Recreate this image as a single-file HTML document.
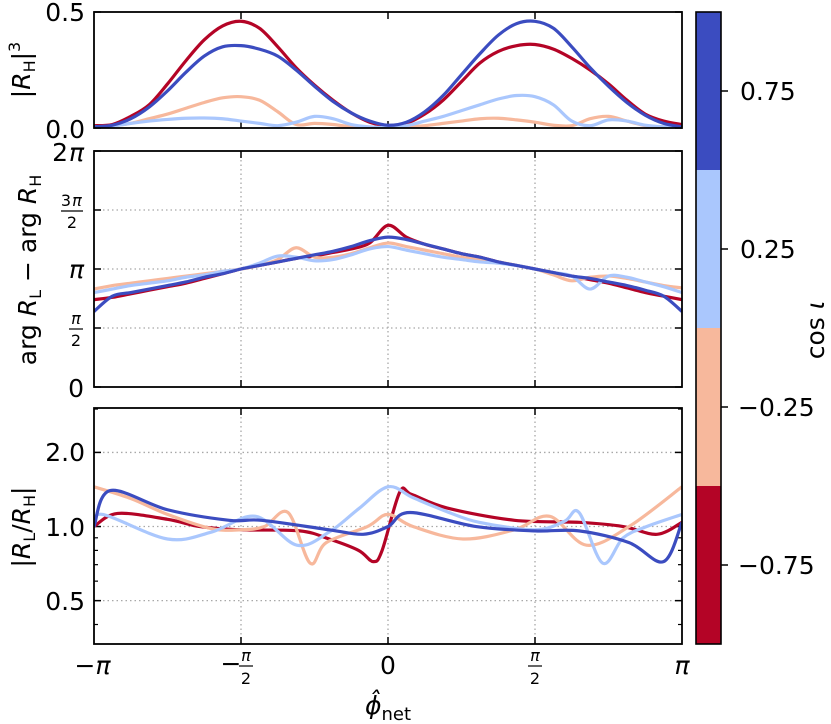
<!DOCTYPE html>
<html><head><meta charset="utf-8"><style>
body{margin:0;background:#fff}
svg{display:block;font-family:"DejaVu Sans","Liberation Sans",sans-serif}
</style></head><body>
<svg id="chart" width="831" height="724" viewBox="0 0 831 724" xmlns="http://www.w3.org/2000/svg"></svg>
<script>
// ---- data ----
const seriesCos = [-0.75, -0.25, 0.25, 0.75];
const seriesColors = ["#b40426", "#f7b89c", "#aac7fd", "#3b4cc0"];
const gridX = [-1,-.9375,-.875,-.8125,-.75,-.6875,-.625,-.5625,-.5,-.4375,-.375,-.3125,-.25,-.1875,-.125,-.0625,0,.0625,.125,.1875,.25,.3125,.375,.4375,.5,.5625,.625,.6875,.75,.8125,.875,.9375,1];
// top panel |R_H|^3
const topRed = [.01,.015,.05,.1,.19,.29,.38,.44,.46,.43,.35,.26,.185,.12,.065,.025,.01,.02,.06,.12,.2,.28,.33,.355,.36,.34,.3,.25,.19,.12,.06,.03,.015];
const topPeach = [.005,.01,.02,.04,.06,.085,.11,.13,.135,.12,.07,.015,.02,.015,.005,.002,.002,.005,.01,.02,.03,.04,.042,.035,.025,.012,.01,.04,.05,.03,.01,.005,.005];
const topLight = [.002,.008,.02,.03,.037,.042,.043,.04,.03,.02,.01,.025,.05,.04,.015,.005,.002,.01,.03,.05,.075,.1,.125,.14,.135,.1,.03,.01,.035,.03,.012,.005,.002];
const topBlue = [.005,.012,.04,.09,.16,.24,.31,.35,.355,.34,.31,.25,.18,.115,.065,.03,.012,.025,.07,.14,.23,.32,.4,.45,.46,.43,.35,.26,.18,.11,.055,.02,.005];
// middle panel arg difference (units of pi)
const midRed = [.74,.76,.79,.82,.85,.88,.92,.96,1.0,1.03,1.06,1.09,1.11,1.14,1.17,1.22,1.37,1.27,1.21,1.17,1.13,1.1,1.06,1.03,1.0,.97,.94,.91,.88,.84,.8,.77,.74];
const midPeach = [.83,.86,.88,.9,.92,.94,.96,.98,1.0,1.03,1.08,1.18,1.1,1.1,1.13,1.18,1.22,1.19,1.16,1.13,1.1,1.08,1.06,1.03,1.0,.95,.9,.93,.94,.92,.89,.86,.84];
const midLight = [.8,.83,.86,.88,.9,.93,.95,.98,1.0,1.05,1.11,1.1,1.07,1.08,1.12,1.17,1.19,1.16,1.13,1.1,1.08,1.06,1.05,1.03,1.0,.97,.94,.83,.94,.93,.89,.85,.8];
const midBlue = [.64,.77,.8,.83,.86,.89,.93,.96,1.0,1.03,1.06,1.09,1.12,1.15,1.19,1.24,1.27,1.25,1.21,1.17,1.13,1.1,1.06,1.03,1.0,.97,.94,.92,.89,.86,.82,.77,.64];
// bottom panel |R_L/R_H|
const botRedX = [-1,-.92,-.75,-.64,-.5,-.3,-.2,-.1,-.05,-.02,.04,.08,.2,.43,.65,.8,.915,1];
const botRedY = [1.0,1.13,1.07,1.0,.97,.96,.89,.8,.72,.8,1.38,1.35,1.19,1.06,1.04,1.0,.93,1.04];
const botPeachX = [-1,-.875,-.75,-.6,-.5,-.42,-.34,-.265,-.21,-.07,0,.085,.255,.43,.55,.675,.82,1];
const botPeachY = [1.45,1.3,1.12,.98,.97,1.0,1.14,.71,.86,1.0,1.12,1.0,.89,.97,1.1,.84,1.0,1.45];
const botLightX = [-1,-.97,-.75,-.6,-.45,-.31,-.2,-.1,0,.085,.2,.31,.5,.6,.65,.73,.8,.88,1];
const botLightY = [1.0,1.12,.89,.95,1.1,.84,.95,1.18,1.45,1.31,1.15,1.04,.97,1.05,1.14,.71,.9,1.0,1.12];
const botBlueX = [-1,-.945,-.75,-.54,-.43,-.2,-.085,0,.075,.3,.5,.65,.82,.937,1];
const botBlueY = [1.0,1.4,1.17,1.06,1.06,.97,.93,1.0,1.14,1.0,.96,.96,.86,.72,1.04];
const xTickVals = [-1,-0.5,0,0.5,1];
const cbTickLabels = ["0.75","0.25","\u22120.25","\u22120.75"];

// ---- layout ----
const NS="http://www.w3.org/2000/svg", svg=document.getElementById('chart');
const X0=94,X1=682;
const FS=25, FR=16;
const sx=t=>X0+(t+1)/2*(X1-X0);
const P={top:{y0:12,y1:128},mid:{y0:151,y1:387},bot:{y0:408,y1:644}};
const syTop=v=>P.top.y1-v/0.5*(P.top.y1-P.top.y0);
const syMid=v=>P.mid.y1-v/2*(P.mid.y1-P.mid.y0);
const LMIN=Math.log10(1/3),LMAX=Math.log10(3.03);
const syBot=v=>P.bot.y1-(Math.log10(v)-LMIN)/(LMAX-LMIN)*(P.bot.y1-P.bot.y0);
function el(tag,attrs,parent){const e=document.createElementNS(NS,tag);for(const k in attrs)e.setAttribute(k,attrs[k]);(parent||svg).appendChild(e);return e;}
function txt(s,x,y,size,anchor,parent,italic){const t=el('text',{x:x,y:y,'font-size':size,'text-anchor':anchor||'middle'},parent);if(italic)t.setAttribute('font-style','italic');t.textContent=s;return t;}
function smooth(pts){let d=`M${pts[0][0]},${pts[0][1]}`;for(let i=0;i<pts.length-1;i++){const p0=pts[Math.max(i-1,0)],p1=pts[i],p2=pts[i+1],p3=pts[Math.min(i+2,pts.length-1)];
const c1=[p1[0]+(p2[0]-p0[0])/6,p1[1]+(p2[1]-p0[1])/6],c2=[p2[0]-(p3[0]-p1[0])/6,p2[1]-(p3[1]-p1[1])/6];
d+=`C${c1[0].toFixed(2)},${c1[1].toFixed(2)} ${c2[0].toFixed(2)},${c2[1].toFixed(2)} ${p2[0].toFixed(2)},${p2[1].toFixed(2)}`;}return d;}

function panel(name,p,yticks,sy,grid,minor){
  const g=el('g',{});
  
  
  const cp=el('clipPath',{id:'clip-'+name},g);el('rect',{x:X0,y:p.y0,width:X1-X0,height:p.y1-p.y0},cp);
  if(grid){
    xTickVals.slice(1,-1).forEach(t=>{const l=el('line',{x1:sx(t),x2:sx(t),y1:p.y0,y2:p.y1,stroke:'#a8a8a8','stroke-width':1.3,'stroke-dasharray':'1.5,3'},g);
      });
    yticks.forEach(tk=>{const y=sy(tk.v);if(y<=p.y0+1||y>=p.y1-1)return;const l=el('line',{x1:X0,x2:X1,y1:y,y2:y,stroke:'#a8a8a8','stroke-width':1.3,'stroke-dasharray':'1.5,3'},g);
      });
  }
  xTickVals.slice(1,-1).forEach(t=>{el('line',{x1:sx(t),x2:sx(t),y1:p.y1,y2:p.y1-7,stroke:'#000','stroke-width':1.5},g);el('line',{x1:sx(t),x2:sx(t),y1:p.y0,y2:p.y0+7,stroke:'#000','stroke-width':1.5},g);});
  yticks.forEach(tk=>{const y=sy(tk.v);el('line',{x1:X0,x2:X0+7,y1:y,y2:y,stroke:'#000','stroke-width':1.5},g);el('line',{x1:X1,x2:X1-7,y1:y,y2:y,stroke:'#000','stroke-width':1.5},g);});
  (minor||[]).forEach(v=>{const y=sy(v);el('line',{x1:X0,x2:X0+4,y1:y,y2:y,stroke:'#000','stroke-width':1.2},g);el('line',{x1:X1,x2:X1-4,y1:y,y2:y,stroke:'#000','stroke-width':1.2},g);});
  return g;
}
function drawSeries(g,name,xs,ys,sy,ci,clip){
  const pts=xs.map((t,i)=>[sx(t),sy(ys[i])]);
  const path=el('path',{d:smooth(pts),fill:'none',stroke:seriesColors[ci],'stroke-width':3.2,'stroke-linejoin':'round','clip-path':'url(#clip-'+clip+')'},g);
  
  
}
function frame(g,p,name){const r=el('rect',{x:X0,y:p.y0,width:X1-X0,height:p.y1-p.y0,fill:'none',stroke:'#000','stroke-width':1.8},g);
  }

// top
const gT=panel('top',P.top,[{v:0},{v:0.5}],syTop,false);
drawSeries(gT,'top-line-cos-m075',gridX,topRed,syTop,0,'top');
drawSeries(gT,'top-line-cos-m025',gridX,topPeach,syTop,1,'top');
drawSeries(gT,'top-line-cos-025',gridX,topLight,syTop,2,'top');
drawSeries(gT,'top-line-cos-075',gridX,topBlue,syTop,3,'top');
frame(gT,P.top,'top');
txt('0.5',85,21,FS,'end',gT);txt('0.0',85,138,FS,'end',gT);

// middle
const gM=panel('mid',P.mid,[0,0.5,1,1.5,2].map(v=>({v})),syMid,true);
drawSeries(gM,'mid-line-cos-m075',gridX,midRed,syMid,0,'mid');
drawSeries(gM,'mid-line-cos-m025',gridX,midPeach,syMid,1,'mid');
drawSeries(gM,'mid-line-cos-025',gridX,midLight,syMid,2,'mid');
drawSeries(gM,'mid-line-cos-075',gridX,midBlue,syMid,3,'mid');
frame(gM,P.mid,'mid');
txt('2',68,161,FS,'end',gM);txt('\u03c0',84,161,FS,'end',gM,true);
txt('\u03c0',84,278,FS,'end',gM,true);
txt('0',84,397,FS,'end',gM);
txt('3',66,206,FR,'middle',gM);txt('\u03c0',77,206,FR,'middle',gM,true);el('line',{x1:61,x2:83,y1:211,y2:211,stroke:'#000','stroke-width':1.2},gM);txt('2',72,228,FR,'middle',gM);
txt('\u03c0',76,324,FR,'middle',gM,true);el('line',{x1:69,x2:83,y1:329,y2:329,stroke:'#000','stroke-width':1.2},gM);txt('2',76,346,FR,'middle',gM);

// bottom
const minorB=[0.4,0.6,0.7,0.8,0.9,3];
const gB=panel('bot',P.bot,[{v:0.5},{v:1},{v:2}],syBot,true,minorB);
drawSeries(gB,'bot-line-cos-m075',botRedX,botRedY,syBot,0,'bot');
drawSeries(gB,'bot-line-cos-m025',botPeachX,botPeachY,syBot,1,'bot');
drawSeries(gB,'bot-line-cos-025',botLightX,botLightY,syBot,2,'bot');
drawSeries(gB,'bot-line-cos-075',botBlueX,botBlueY,syBot,3,'bot');
frame(gB,P.bot,'bot');
txt('2.0',85,461,FS,'end',gB);txt('1.0',85,536,FS,'end',gB);txt('0.5',85,610,FS,'end',gB);

// x tick labels
const gx=el('g',{});
txt('\u2212',sx(-1)-9,674,FS,'middle',gx);txt('\u03c0',sx(-1)+9,674,FS,'middle',gx,true);
txt('0',sx(0),674,FS,'middle',gx);
txt('\u03c0',sx(1),674,FS,'middle',gx,true);
txt('\u2212',sx(-0.5)-10,672,FS,'middle',gx);txt('\u03c0',sx(-0.5)+5,661,FR,'middle',gx,true);el('line',{x1:sx(-0.5)-2,x2:sx(-0.5)+12,y1:666,y2:666,stroke:'#000','stroke-width':1.2},gx);txt('2',sx(-0.5)+5,684,FR,'middle',gx);
txt('\u03c0',sx(0.5),661,FR,'middle',gx,true);el('line',{x1:sx(0.5)-7,x2:sx(0.5)+7,y1:666,y2:666,stroke:'#000','stroke-width':1.2},gx);txt('2',sx(0.5),684,FR,'middle',gx);

// axis titles
const xt=el('text',{x:388,y:714,'font-size':FS,'text-anchor':'middle'});
xt.innerHTML='<tspan font-style="italic">\u03d5\u0302</tspan><tspan font-size="18" dy="6">net</tspan>';
function ylab(name,x,y,html){const t=el('text',{x:0,y:0,'font-size':FS,'text-anchor':'middle',transform:`translate(${x},${y}) rotate(-90)`});t.innerHTML=html;}
ylab('top-y-axis-title',30,70,'|<tspan font-style="italic">R</tspan><tspan font-size="16" dy="5">H</tspan><tspan dy="-5">|</tspan><tspan font-size="16" dy="-10">3</tspan>');
ylab('mid-y-axis-title',36,270,'arg <tspan font-style="italic">R</tspan><tspan font-size="16" dy="5">L</tspan><tspan dy="-5"> \u2212 arg </tspan><tspan font-style="italic">R</tspan><tspan font-size="16" dy="5">H</tspan>');
ylab('bot-y-axis-title',30,527,'|<tspan font-style="italic">R</tspan><tspan font-size="16" dy="5">L</tspan><tspan dy="-5">/</tspan><tspan font-style="italic">R</tspan><tspan font-size="16" dy="5">H</tspan><tspan dy="-5">|</tspan>');

// colorbar
const gc=el('g',{});
const CB={x:696,w:25,y0:12,y1:644};const segH=(CB.y1-CB.y0)/seriesCos.length;
for(let i=0;i<seriesCos.length;i++){const ci=seriesCos.length-1-i;const r=el('rect',{x:CB.x,y:CB.y0+i*segH,width:CB.w,height:segH+0.5,fill:seriesColors[ci]},gc);
  
  const yc=CB.y0+(i+0.5)*segH;el('line',{x1:CB.x+CB.w,x2:CB.x+CB.w+7,y1:yc,y2:yc,stroke:'#000','stroke-width':1.5},gc);
  const lx=cbTickLabels[i].startsWith('\u2212')?CB.x+CB.w+17:CB.x+CB.w+19;
  txt(cbTickLabels[i],lx,yc+9,FS,'start',gc);}
el('rect',{x:CB.x,y:CB.y0,width:CB.w,height:CB.y1-CB.y0,fill:'none',stroke:'#000','stroke-width':1.6},gc);
const cl=el('text',{x:0,y:0,'font-size':FS,'text-anchor':'middle',transform:'translate(824,330) rotate(-90)'});
cl.innerHTML='cos <tspan font-style="italic">\u03b9</tspan>';
</script>
</body></html>
